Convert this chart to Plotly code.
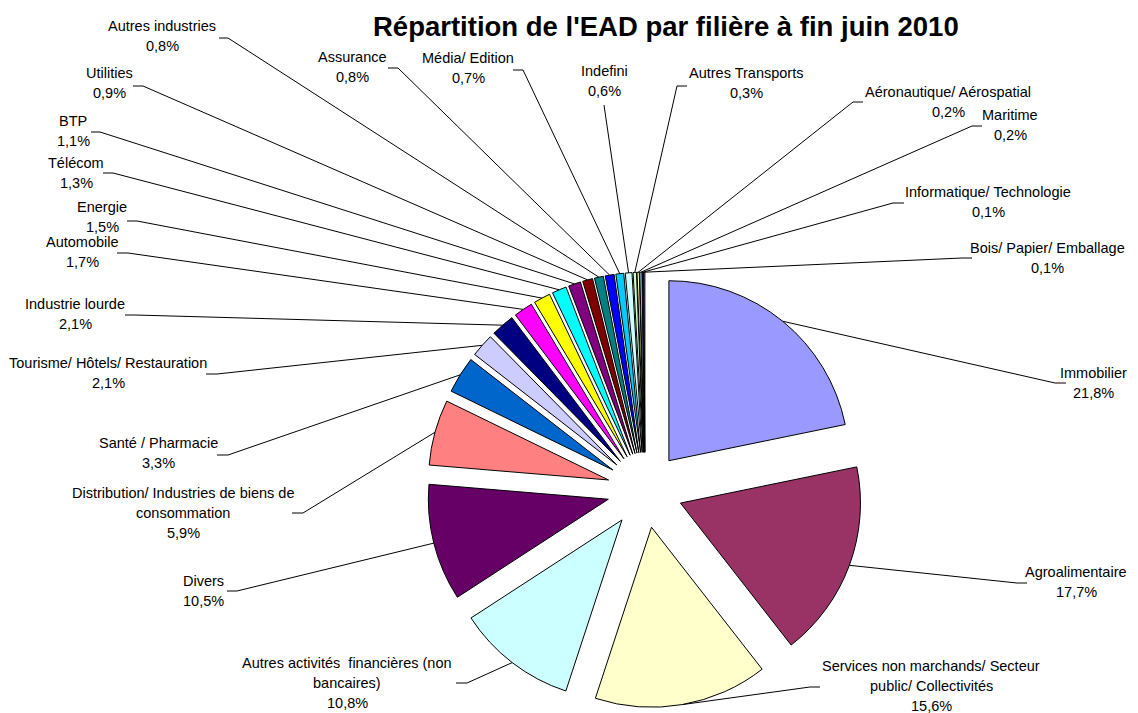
import math
import plotly.graph_objects as go

# ---------------- data ----------------
categories = [
    "Immobilier", "Agroalimentaire",
    "Services non marchands/ Secteur public/ Collectivités",
    "Autres activités financières (non bancaires)", "Divers",
    "Distribution/ Industries de biens de consommation",
    "Santé / Pharmacie", "Tourisme/ Hôtels/ Restauration", "Industrie lourde",
    "Automobile", "Energie", "Télécom", "BTP", "Utilities", "Autres industries",
    "Assurance", "Média/ Edition", "Indefini", "Autres Transports",
    "Aéronautique/ Aérospatial", "Maritime", "Informatique/ Technologie",
    "Bois/ Papier/ Emballage",
]
values = [21.8, 17.7, 15.6, 10.8, 10.5, 5.9, 3.3, 2.1, 2.1, 1.7, 1.5, 1.3,
          1.1, 0.9, 0.8, 0.8, 0.7, 0.6, 0.3, 0.2, 0.2, 0.1, 0.1]
# label text lines (as wrapped in the chart)
label_lines = [
    ["Immobilier"], ["Agroalimentaire"],
    ["Services non marchands/ Secteur", "public/ Collectivités"],
    ["Autres activités  financières (non", "bancaires)"], ["Divers"],
    ["Distribution/ Industries de biens de", "consommation"],
    ["Santé / Pharmacie"], ["Tourisme/ Hôtels/ Restauration"], ["Industrie lourde"],
    ["Automobile"], ["Energie"], ["Télécom"], ["BTP"], ["Utilities"], ["Autres industries"],
    ["Assurance"], ["Média/ Edition"], ["Indefini"], ["Autres Transports"],
    ["Aéronautique/ Aérospatial"], ["Maritime"], ["Informatique/ Technologie"],
    ["Bois/ Papier/ Emballage"],
]
title_text = "Répartition de l'EAD par filière à fin juin 2010"

# ---------------- styles / layout positions ----------------
colors = ["#9999FF", "#993366", "#FFFFCC", "#CCFFFF", "#660066", "#FF8080",
          "#0066CC", "#CCCCFF", "#000080", "#FF00FF", "#FFFF00", "#00FFFF",
          "#800080", "#800000", "#008080", "#0000FF", "#00CCFF", "#CCFFFF",
          "#CCFFCC", "#FFFF99", "#99CCFF", "#FF99CC", "#CC99FF"]

W, H = 1138, 713
OFF = 8            # page body margin of the html page
CX, CY, R, PULL = 645, 490, 180, 0.21
LINE_H = 20
FONT = "Liberation Sans, Arial, sans-serif"

# label centre x and first-line centre y (window pixels)
label_pos = [(1093, 373), (1076, 572), (931, 666), (347, 663), (203, 581),
             (183, 493), (158, 443), (108, 363), (75, 304), (82, 242),
             (102, 207), (76, 163), (73, 121), (109, 73), (162, 26),
             (352, 57), (468, 58), (604, 71), (746, 73), (948, 92),
             (1010, 115), (988, 192), (1047, 248)]
# leader stub: (outer point), (elbow point)
stubs = [((1066, 383), (1055, 383)), ((1027, 583), (1017, 583)),
         ((820, 687), (810, 687)), ((456, 683), (467, 683)),
         ((227, 591), (237, 591)), ((292, 513), (303, 513)),
         ((217, 455), (228, 455)), ((206, 374), (217, 374)),
         ((125, 315), (135, 315)), ((117, 253), (128, 253)),
         ((127, 221), (137, 221)), ((103, 173), (113, 173)),
         ((91, 132), (100, 132)), ((133, 86), (143, 86)),
         ((219, 38), (228, 38)), ((388, 68), (398, 68)),
         ((513, 70), (523, 70)), ((604, 105), (605, 112)),
         ((687, 86), (677, 86)), ((863, 102), (853, 102)),
         ((982, 126), (972, 126)), ((904, 203), (893, 203)),
         ((972, 258), (962, 258))]


def px(x):
    return (x - OFF) / W


def py(y):
    return 1 - (y - OFF) / H


half = R * (1 + PULL)
fig = go.Figure(go.Pie(
    labels=categories, values=values, sort=False, direction="clockwise",
    rotation=0, pull=[PULL] * len(values), textinfo="none",
    marker=dict(colors=colors, line=dict(color="black", width=1)),
    domain=dict(x=[px(CX - half), px(CX + half)],
                y=[py(CY + half), py(CY - half)]),
    showlegend=False,
))

total = sum(values)
annotations = []
shapes = []
cum = 0.0
for i, v in enumerate(values):
    theta = math.radians((cum + v / 2) / total * 360)
    cum += v
    tip = (CX + half * math.sin(theta), CY - half * math.cos(theta))
    (ox, oy), (ex, ey) = stubs[i]
    path = "M {} {} L {} {} L {} {}".format(px(ox), py(oy), px(ex), py(ey),
                                            px(tip[0]), py(tip[1]))
    shapes.append(dict(type="path", path=path, xref="paper", yref="paper",
                       line=dict(color="black", width=1)))
    lx, ly = label_pos[i]
    lines = label_lines[i] + ["{:.1f}%".format(v).replace(".", ",")]
    for k, t in enumerate(lines):
        annotations.append(dict(
            text=t, x=px(lx), y=py(ly + k * LINE_H), xref="paper", yref="paper",
            xanchor="center", yanchor="middle", showarrow=False,
            font=dict(family=FONT, size=14.5, color="black")))

annotations.append(dict(
    text="<b>" + title_text + "</b>", x=px(666), y=py(26), xref="paper",
    yref="paper", xanchor="center", yanchor="middle", showarrow=False,
    font=dict(family=FONT, size=27.5, color="black")))

fig.update_layout(
    width=W, height=H, margin=dict(l=0, r=0, t=0, b=0),
    paper_bgcolor="white", plot_bgcolor="white",
    annotations=annotations, shapes=shapes,
)
fig.write_html("out.html")
